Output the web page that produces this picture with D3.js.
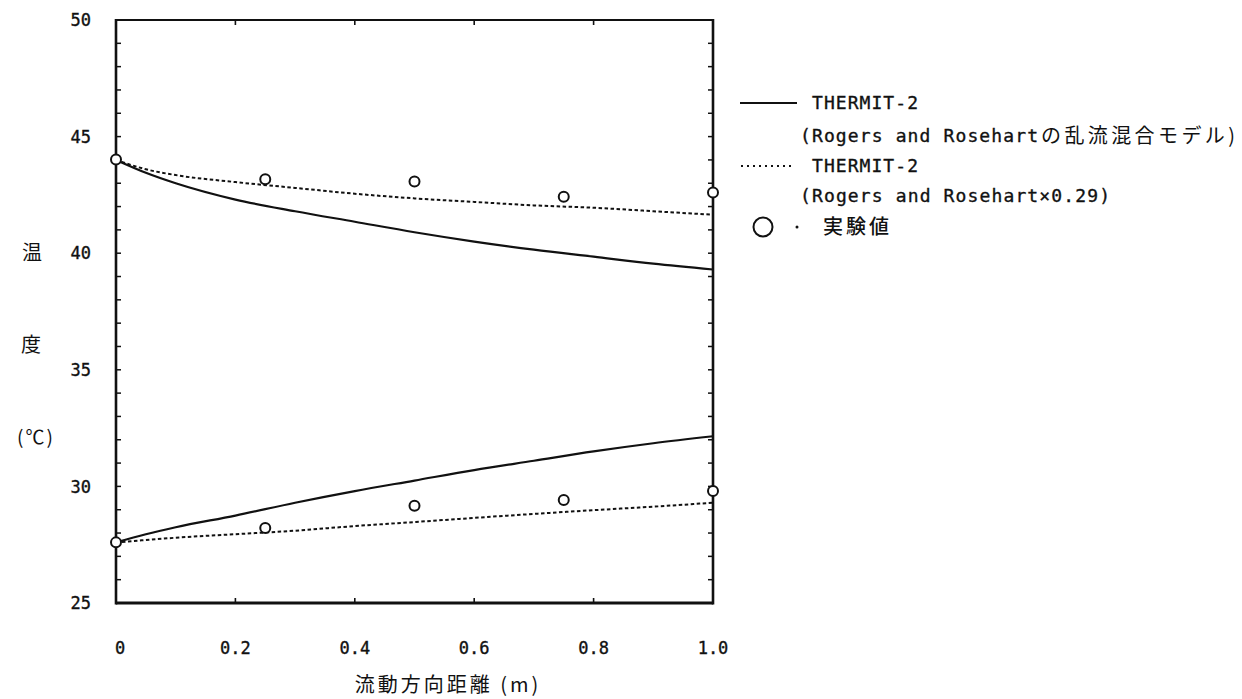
<!DOCTYPE html>
<html>
<head>
<meta charset="utf-8">
<script src="https://cdn.jsdelivr.net/npm/d3@7"></script>
<style>
  body { margin: 0; background: #fff; }
  svg { display: block; }
  text { fill: #111; }
</style>
</head>
<body>
<svg id="chart" width="1242" height="699"></svg>
<script>
// Distance along the flow direction (m) where the THERMIT-2 curves are sampled
const distance = [0, 0.05, 0.1, 0.2, 0.3, 0.4, 0.5, 0.6, 0.7, 0.8, 0.9, 1.0];
// THERMIT-2, Rogers and Rosehart turbulent mixing model (solid)
const hotSolid  = [44.0, 43.45, 43.0, 42.3, 41.8, 41.35, 40.9, 40.5, 40.15, 39.85, 39.55, 39.3];
const coldSolid = [27.6, 27.95, 28.25, 28.75, 29.3, 29.8, 30.25, 30.7, 31.1, 31.5, 31.85, 32.15];
// THERMIT-2, Rogers and Rosehart x 0.29 (dotted)
const hotDotted  = [44.0, 43.6, 43.35, 43.05, 42.8, 42.55, 42.35, 42.2, 42.05, 41.95, 41.8, 41.65];
const coldDotted = [27.6, 27.7, 27.8, 27.95, 28.1, 28.3, 28.47, 28.65, 28.82, 28.98, 29.13, 29.3];
// Measured values
const measDistance = [0, 0.25, 0.5, 0.75, 1.0];
const measHot  = [44.02, 43.17, 43.07, 42.42, 42.6];
const measCold = [27.6, 28.22, 29.17, 29.42, 29.8];
// Axis ticks
const xTickValues = [0, 0.2, 0.4, 0.6, 0.8, 1.0];
const xTickLabels = ["0", "0.2", "0.4", "0.6", "0.8", "1.0"];
const yTickValues = [25, 30, 35, 40, 45, 50];
const yMinorTicks = d3.range(26, 50);
// Legend text
const legendSolidName = "THERMIT-2";
const legendSolidNoteLatin = "(Rogers and Rosehart";
const legendSolidNoteJa = "の乱流混合モデル)";
const legendDottedName = "THERMIT-2";
const legendDottedNote = "(Rogers and Rosehart×0.29)";
const legendMeasured = "実験値";
const yTitle = ["温", "度", "(℃)"];
const xTitle = "流動方向距離 (m)";

const mono = "'DejaVu Sans Mono', 'Liberation Mono', monospace";
const cjk = "'Noto Sans CJK JP', 'Noto Sans CJK SC', sans-serif";

const svg = d3.select("#chart");
const x = d3.scaleLinear().domain([0, 1]).range([116, 713]);
const y = d3.scaleLinear().domain([25, 50]).range([603, 20]);

// frame
const frame = svg.append("g").attr("fill", "none").attr("stroke", "#111");
frame.append("line").attr("x1", x(0)).attr("x2", x(0)).attr("y1", y(50) - 1).attr("y2", y(25) + 1.5).attr("stroke-width", 2.6);
frame.append("line").attr("x1", x(1)).attr("x2", x(1)).attr("y1", y(50) - 1).attr("y2", y(25) + 1.5).attr("stroke-width", 2.6);
frame.append("line").attr("x1", x(0)).attr("x2", x(1)).attr("y1", y(50)).attr("y2", y(50)).attr("stroke-width", 2.2);
frame.append("line").attr("x1", x(0)).attr("x2", x(1)).attr("y1", y(25)).attr("y2", y(25)).attr("stroke-width", 3);

// inward ticks
const tickLen = 5;
const innerX = xTickValues.filter(v => v > 0 && v < 1);
frame.selectAll(".tb").data(innerX).join("line")
  .attr("x1", d => x(d)).attr("x2", d => x(d))
  .attr("y1", y(25)).attr("y2", y(25) - tickLen).attr("stroke-width", 1.6);
frame.selectAll(".tt").data(innerX).join("line")
  .attr("x1", d => x(d)).attr("x2", d => x(d))
  .attr("y1", y(50)).attr("y2", y(50) + tickLen).attr("stroke-width", 1.6);
frame.selectAll(".tl").data(yMinorTicks).join("line")
  .attr("x1", x(0)).attr("x2", x(0) + tickLen)
  .attr("y1", d => y(d)).attr("y2", d => y(d)).attr("stroke-width", 1.5);
frame.selectAll(".tr").data(yMinorTicks).join("line")
  .attr("x1", x(1)).attr("x2", x(1) - tickLen)
  .attr("y1", d => y(d)).attr("y2", d => y(d)).attr("stroke-width", 1.5);

// tick labels
const labelInk = sel => sel.attr("stroke", "#111").attr("stroke-width", 0.35);
svg.append("g").selectAll("text").data(yTickValues).join("text")
  .attr("x", 91).attr("y", d => y(d)).attr("dy", "0.36em")
  .attr("text-anchor", "end")
  .attr("font-family", mono).attr("font-size", 17)
  .call(labelInk)
  .text(d => d);
svg.append("g").selectAll("text").data(xTickValues).join("text")
  .attr("x", (d, i) => x(d) + (i === 0 ? 4 : 0)).attr("y", 648).attr("dy", "0.36em")
  .attr("text-anchor", "middle")
  .attr("font-family", mono).attr("font-size", 17)
  .call(labelInk)
  .text((d, i) => xTickLabels[i]);

// axis titles
svg.append("text").attr("x", 32).attr("y", y(40)).attr("dy", "0.36em")
  .attr("text-anchor", "middle").attr("font-family", cjk).attr("font-size", 20).text(yTitle[0]);
svg.append("text").attr("x", 31).attr("y", 345).attr("dy", "0.36em")
  .attr("text-anchor", "middle").attr("font-family", cjk).attr("font-size", 20).text(yTitle[1]);
svg.append("text").attr("x", 36).attr("y", 437).attr("dy", "0.36em")
  .attr("text-anchor", "middle").attr("font-family", cjk).attr("font-size", 19)
  .attr("letter-spacing", 2).text(yTitle[2]);
svg.append("text").attr("x", 448).attr("y", 685).attr("dy", "0.36em")
  .attr("text-anchor", "middle").attr("font-family", cjk).attr("font-size", 20)
  .attr("letter-spacing", 3).text(xTitle);

// model curves
const line = d3.line().x(d => x(d[0])).y(d => y(d[1])).curve(d3.curveMonotoneX);
const zip = vals => distance.map((d, i) => [d, vals[i]]);
const curves = svg.append("g").attr("fill", "none").attr("stroke", "#111");
[hotSolid, coldSolid].forEach(vals => {
  curves.append("path").attr("d", line(zip(vals))).attr("stroke-width", 2.2);
});
[hotDotted, coldDotted].forEach(vals => {
  curves.append("path").attr("d", line(zip(vals))).attr("stroke-width", 2)
    .attr("stroke-dasharray", "3.5,2.5");
});

// measured points
const meas = measDistance.map((d, i) => [d, measHot[i]])
  .concat(measDistance.map((d, i) => [d, measCold[i]]));
svg.append("g").selectAll("circle").data(meas).join("circle")
  .attr("cx", d => x(d[0])).attr("cy", d => y(d[1])).attr("r", 5)
  .attr("fill", "#fff").attr("stroke", "#111").attr("stroke-width", 2);

// legend: half-width Latin cells of ~12px, full-width CJK cells of ~24px
const lg = svg.append("g");
const rows = [103, 136, 166, 196, 227];
lg.append("line").attr("x1", 740).attr("x2", 797).attr("y1", rows[0]).attr("y2", rows[0])
  .attr("stroke", "#111").attr("stroke-width", 2);
lg.append("text").attr("x", 812).attr("y", rows[0]).attr("dy", "0.36em")
  .attr("font-family", mono).attr("font-size", 18).call(labelInk)
  .attr("textLength", 106).attr("lengthAdjust", "spacing").text(legendSolidName);
lg.append("text").attr("x", 800).attr("y", rows[1]).attr("dy", "0.36em")
  .attr("font-family", mono).attr("font-size", 18).call(labelInk)
  .attr("textLength", 238).attr("lengthAdjust", "spacing").text(legendSolidNoteLatin);
lg.append("text").attr("x", 1041).attr("y", rows[1]).attr("dy", "0.36em")
  .attr("font-family", cjk).attr("font-size", 20)
  .attr("textLength", 194).attr("lengthAdjust", "spacing").text(legendSolidNoteJa);
lg.append("line").attr("x1", 741).attr("x2", 792).attr("y1", rows[2]).attr("y2", rows[2])
  .attr("stroke", "#111").attr("stroke-width", 2).attr("stroke-dasharray", "2,4");
lg.append("text").attr("x", 812).attr("y", rows[2]).attr("dy", "0.36em")
  .attr("font-family", mono).attr("font-size", 18).call(labelInk)
  .attr("textLength", 106).attr("lengthAdjust", "spacing").text(legendDottedName);
lg.append("text").attr("x", 800).attr("y", rows[3]).attr("dy", "0.36em")
  .attr("font-family", mono).attr("font-size", 18).call(labelInk)
  .attr("textLength", 310).attr("lengthAdjust", "spacing").text(legendDottedNote);
lg.append("circle").attr("cx", 763).attr("cy", rows[4]).attr("r", 9.5)
  .attr("fill", "#fff").attr("stroke", "#111").attr("stroke-width", 2);
lg.append("circle").attr("cx", 797).attr("cy", rows[4]).attr("r", 1.5).attr("fill", "#111");
lg.append("text").attr("x", 823).attr("y", rows[4]).attr("dy", "0.36em")
  .attr("font-family", cjk).attr("font-size", 20).attr("font-weight", 500)
  .attr("letter-spacing", 3).text(legendMeasured);
</script>
</body>
</html>
